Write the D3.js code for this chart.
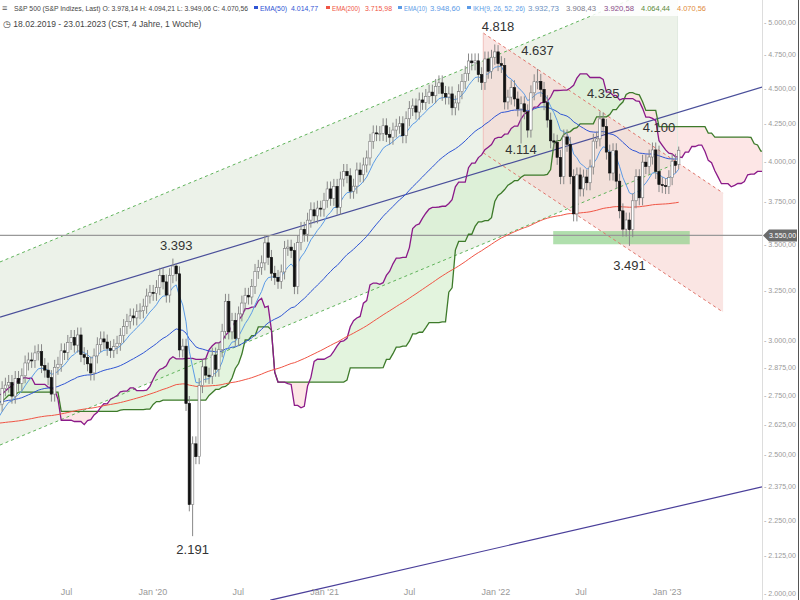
<!DOCTYPE html>
<html>
<head>
<meta charset="utf-8">
<script src="https://cdn.jsdelivr.net/npm/d3@7"></script>
<style>
  body { margin: 0; background: #fff; }
  text { font-family: "Liberation Sans", Arial, sans-serif; }
</style>
</head>
<body>
<svg id="chart" width="800" height="600"></svg>
<script>
// weekly closes, Feb 2018 .. Jan 2023 (last = week of 23.01.2023)
var closes2018 = [2747,2691,2786,2752,2588,2641,2604,2656,2670,2670,2663,2728,2713,2721,2735,2779,2780,2755,2718,2760,
  2801,2802,2819,2840,2833,2850,2875,2902,2872,2905,2930,2914,2885,2767,2768,2658,2723,2781,2736,2633,2760,2633,2600,2417,
  2486,2532,2596,2671,2665,2707,2708,2776];
var closes2019 = [2792,2804,2743,2822,2800,2834,2893,2907,2905,2940,2946,2881,2860,2826,2752,2873,2887,2950,2942,2990,
  3014,2977,3026,2932,2919,2889,2847,2926,2979,3007,2992,2962,2952,2970,2986,3023,3067,3093,3120,3110,3141,3146,3169,3221,3240];
var closes2020 = [3235,3265,3330,3295,3226,3328,3380,3338,2954,2972,2711,2305,2541,2489,2790,2875,2837,2831,2930,2864,2955,
  3044,3194,3041,3098,3009,3130,3185,3225,3216,3271,3351,3373,3397,3508,3427,3341,3319,3298,3348,3477,3484,3465,3270,3509,
  3585,3557,3638,3699,3663,3709,3703,3756];
var closes2021 = [3825,3768,3841,3714,3886,3934,3907,3811,3842,3943,3913,3975,4020,4129,4185,4180,4181,4233,4174,4156,4204,
  4230,4247,4166,4281,4352,4370,4327,4412,4395,4437,4468,4442,4509,4535,4459,4433,4455,4357,4391,4471,4545,4605,4697,4683,
  4698,4595,4538,4712,4620,4725,4766];
var closes2022 = [4677,4663,4398,4432,4500,4419,4349,4385,4329,4204,4463,4543,4546,4488,4393,4272,4132,4123,4024,3901,4158,
  4109,3901,3675,3912,3825,3899,3863,3962,4130,4145,4280,4228,4058,3924,4067,3873,3693,3586,3639,3583,3753,3901,3771,3993,
  3965,4026,4072,3934,3852,3845,3840,3895,3999,3972,4070];
var lastWeek = "2023-01-23", lastOpen = 3978;
var ema200Seed = 2560; // EMA(200) level carried in from before the loaded history
// known weekly extremes
var extremes = [
  {week: "2020-02-17", high: 3393}, {week: "2020-03-16", low: 2280}, {week: "2020-03-23", low: 2191},
  {week: "2022-01-03", high: 4818}, {week: "2022-02-21", low: 4114}, {week: "2022-03-28", high: 4637},
  {week: "2022-08-15", high: 4325}, {week: "2022-10-10", low: 3491}, {week: "2022-12-12", high: 4100},
  {week: "2023-01-23", high: 4094, low: 3949}];
var peakLabels = [
  {text: "4.818", week: "2022-01-03", v: 4818, dy: -14}, {text: "4.637", week: "2022-03-28", v: 4637, dy: -14},
  {text: "4.325", week: "2022-08-15", v: 4325, dy: -14}, {text: "4.114", week: "2022-02-21", v: 4114, dy: 10},
  {text: "4.100", week: "2022-12-12", v: 4100, dy: -14}, {text: "3.393", week: "2020-02-17", v: 3393, dy: -14},
  {text: "3.491", week: "2022-10-10", v: 3491, dy: 24}, {text: "2.191", week: "2020-03-23", v: 2191, dy: 18}];
var yTicks = [5000,4750,4500,4250,4000,3750,3500,3250,3000,2875,2750,2625,2500,2375,2250,2125,2000];
var xTicks = [["2019-07-01","Jul"],["2020-01-01","Jan '20"],["2020-07-01","Jul"],["2021-01-01","Jan '21"],
  ["2021-07-01","Jul"],["2022-01-01","Jan '22"],["2022-07-01","Jul"],["2023-01-01","Jan '23"]];
// header pieces: [x, width, text, colour, legend swatch]
var header = [
  [14, 234, "S&P 500 (S&P Indizes, Last)  O: 3.978,14  H: 4.094,21  L: 3.949,06  C: 4.070,56", "#444", 0],
  [260, 27, "EMA(50)", "#2f55d4", 1], [291, 27, "4.014,77", "#2f55d4", 0],
  [332, 28, "EMA(200)", "#f05545", 1], [365, 27, "3.715,98", "#f05545", 0],
  [404, 23, "EMA(10)", "#5b9be6", 1], [430, 30, "3.948,60", "#5b9be6", 0],
  [473, 52, "IKH(9, 26, 52, 26)", "#5b9be6", 1], [528, 31, "3.932,73", "#6a8fc0", 0],
  [566, 30, "3.908,43", "#7a7a8a", 0], [604, 30, "3.920,58", "#8b4a89", 0], [641, 29, "4.064,44", "#5a8a3a", 0],
  [677, 29, "4.070,56", "#e08a3a", 0]];
// drawn lines: [startDate, startPrice, endDate, endPrice]
var channelUpper = ["2019-02-09", 3402, "2023-01-23", 5349];
var channelLower = ["2019-02-09", 2536, "2023-01-23", 3988];
var trendBlue = ["2019-02-09", 3114, "2023-07-22", 4504];
var trendPurple = ["2020-09-07", 1977, "2023-07-22", 2371];
var redUpper = ["2021-12-05", 4912, "2023-04-30", 3800];
var redLower = ["2021-12-05", 4053, "2023-04-30", 3139];
var supportZone = ["2022-05-03", 3575, "2023-02-18", 3500];
var hLine = 3550;

var parse = d3.utcParse("%Y-%m-%d");
var W = 762, H = 600;
var svg = d3.select("#chart");
var x = d3.scaleUtc().domain([parse("2019-02-09"), parse("2023-07-22")]).range([0, W]);
var y = d3.scaleLog().domain([2000, 5000]).range([593, 22]);

// build weekly bars
var closes = closes2018.concat(closes2019, closes2020, closes2021, closes2022);
var end = parse(lastWeek), n = closes.length;
var bars = closes.map(function(c, i) {
  var d = d3.utcDay.offset(end, -7 * (n - 1 - i));
  var o = i == 0 ? c : closes[i - 1];
  if (i == n - 1) o = lastOpen;
  return {date: d, o: o, c: c, h: Math.max(o, c) * 1.012, l: Math.min(o, c) * 0.988};
});
var key = d3.utcFormat("%Y-%m-%d");
extremes.forEach(function(e) {
  var b = bars.find(function(b) { return key(b.date) == e.week; });
  if (b) { if (e.high) b.h = e.high; if (e.low) b.l = e.low; }
});

function ema(p, seed) {
  var k = 2 / (p + 1), v = seed || closes[0];
  return bars.map(function(b) { v = b.c * k + v * (1 - k); return {date: b.date, v: v}; });
}
function mid(i, p) {
  var s = bars.slice(Math.max(0, i - p + 1), i + 1);
  return (d3.max(s, function(b) { return b.h; }) + d3.min(s, function(b) { return b.l; })) / 2;
}
var cloud = bars.map(function(b, i) {
  return {date: d3.utcDay.offset(b.date, 7 * 26), a: (mid(i, 9) + mid(i, 26)) / 2, b: mid(i, 52)};
}).filter(function(d, i) { return i >= 20; });

var cx = function(d) { return x(d3.utcHour.offset(d, 60)); };
svg.append("clipPath").attr("id", "clip").append("rect").attr("width", W).attr("height", H);
var g = svg.append("g").attr("clip-path", "url(#clip)");

function pt(a, i) { return [x(parse(a[i])), y(a[i + 1])]; }

// green regression channel
var u0 = pt(channelUpper, 0), u1 = pt(channelUpper, 2), l0 = pt(channelLower, 0), l1 = pt(channelLower, 2);
g.append("path").attr("d", "M" + [u0, u1, l1, l0].join("L") + "Z").attr("fill", "#dfeadb").attr("opacity", 0.6);
// red channel
var r0 = pt(redUpper, 0), r1 = pt(redUpper, 2), q0 = pt(redLower, 0), q1 = pt(redLower, 2);
g.append("path").attr("d", "M" + [r0, r1, q1, q0].join("L") + "Z").attr("fill", "#f6d3d0").attr("opacity", 0.6);

// ichimoku cloud fill
var area = d3.area().x(function(d) { return cx(d.date); });
g.append("path").datum(cloud).attr("fill", "#d7efd0").attr("opacity", 0.7)
  .attr("d", area.y0(function(d) { return y(d.b); }).y1(function(d) { return y(Math.max(d.a, d.b)); }));
g.append("path").datum(cloud).attr("fill", "#fde0e0").attr("opacity", 0.8)
  .attr("d", area.y0(function(d) { return y(d.b); }).y1(function(d) { return y(Math.min(d.a, d.b)); }));

// support zone
var s0 = pt(supportZone, 0), s1 = pt(supportZone, 2);
g.append("rect").attr("x", s0[0]).attr("y", s0[1]).attr("width", s1[0] - s0[0]).attr("height", s1[1] - s0[1])
  .attr("fill", "#8fd18a").attr("opacity", 0.7);

function seg(a, color, dash, w) {
  var p0 = pt(a, 0), p1 = pt(a, 2);
  g.append("line").attr("x1", p0[0]).attr("y1", p0[1]).attr("x2", p1[0]).attr("y2", p1[1])
    .attr("stroke", color).attr("stroke-width", w || 1).attr("stroke-dasharray", dash);
}
seg(channelUpper, "#5fb35a", "3,3"); seg(channelLower, "#5fb35a", "3,3");
seg(redUpper, "#e0736a", "3,3"); seg(redLower, "#e0736a", "3,3");
g.append("line").attr("x1", r0[0]).attr("x2", q0[0]).attr("y1", r0[1]).attr("y2", q0[1]).attr("stroke", "#f0c0bc");
g.append("line").attr("x1", u1[0]).attr("x2", l1[0]).attr("y1", u1[1]).attr("y2", l1[1]).attr("stroke", "#e2ebe0");
seg(trendBlue, "#4a4f9a", null, 1.2); seg(trendPurple, "#4a3f9a", null, 1.2);
g.append("line").attr("x1", 0).attr("x2", W).attr("y1", y(hLine)).attr("y2", y(hLine)).attr("stroke", "#999").attr("stroke-width", 1.2);

// ichimoku lines
var vis = function(d) { return d.date >= parse("2019-01-20"); };
g.append("path").datum(cloud.filter(vis)).attr("fill", "none").attr("stroke", "#3d7a2a").attr("stroke-width", 1.3)
  .attr("d", d3.line().x(function(d) { return cx(d.date); }).y(function(d) { return y(d.b); }));
g.append("path").datum(cloud.filter(vis)).attr("fill", "none").attr("stroke", "#8b1a89").attr("stroke-width", 1.3)
  .attr("d", d3.line().x(function(d) { return cx(d.date); }).y(function(d) { return y(d.a); }));

// EMAs
var line = d3.line().x(function(d) { return cx(d.date); }).y(function(d) { return y(d.v); });
[[200, "#f05545", ema200Seed], [50, "#2f55d4"], [10, "#5b9be6"]].forEach(function(e) {
  g.append("path").datum(ema(e[0], e[2]).filter(vis)).attr("fill", "none").attr("stroke", e[1]).attr("stroke-width", 1).attr("d", line);
});

// candles
var cb = g.selectAll(".bar").data(bars.filter(vis)).enter().append("g");
cb.append("line").attr("x1", function(d) { return cx(d.date); }).attr("x2", function(d) { return cx(d.date); })
  .attr("y1", function(d) { return y(d.h); }).attr("y2", function(d) { return y(d.l); }).attr("stroke", "#888");
cb.append("rect").attr("x", function(d) { return cx(d.date) - 1.2; }).attr("width", 2.4)
  .attr("y", function(d) { return y(Math.max(d.o, d.c)); })
  .attr("height", function(d) { return Math.max(1, Math.abs(y(d.o) - y(d.c))); })
  .attr("fill", function(d) { return d.c >= d.o ? "#fff" : "#111"; })
  .attr("stroke", function(d) { return d.c >= d.o ? "#777" : "#111"; }).attr("stroke-width", 0.6);

// peak labels
g.selectAll(".pl").data(peakLabels).enter().append("text")
  .attr("x", function(d) { return cx(parse(d.week)); }).attr("y", function(d) { return y(d.v) + d.dy; })
  .attr("text-anchor", "middle").attr("font-size", 13).attr("fill", "#333").text(function(d) { return d.text; });

// axes
var fmt = function(v) { return d3.format(",.2f")(v).replace(/,/g, "#").replace(".", ",").replace(/#/g, "."); };
svg.append("line").attr("x1", W + 0.5).attr("x2", W + 0.5).attr("y1", 0).attr("y2", H).attr("stroke", "#ddd");
svg.selectAll(".yt").data(yTicks).enter().append("text").attr("x", 764).attr("y", function(d) { return y(d) + 3; })
  .attr("font-size", 8).attr("fill", "#999").attr("textLength", 32).attr("lengthAdjust", "spacingAndGlyphs")
  .text(function(d) { return "- " + fmt(d); });
var hy = y(hLine);
svg.append("path").attr("d", "M763," + hy + "L769," + (hy - 6) + "L797," + (hy - 6) + "L797," + (hy + 6) + "L769," + (hy + 6) + "Z")
  .attr("fill", "#6b6b6b");
svg.append("text").attr("x", 769).attr("y", hy + 3).attr("font-size", 8).attr("fill", "#fff")
  .attr("textLength", 27).attr("lengthAdjust", "spacingAndGlyphs").text(fmt(hLine));
svg.selectAll(".xt").data(xTicks).enter().append("text").attr("x", function(d) { return x(parse(d[0])); }).attr("y", 595)
  .attr("text-anchor", "middle").attr("font-size", 9).attr("fill", "#999").text(function(d) { return d[1]; });
svg.append("line").attr("x1", 798.5).attr("x2", 798.5).attr("y1", 0).attr("y2", H).attr("stroke", "#555");

// header
svg.append("rect").attr("width", 710).attr("height", 16).attr("fill", "#fff").attr("opacity", 0.85);
var hg = svg.append("g");
hg.append("text").attr("x", 2).attr("y", 11).attr("font-size", 9).attr("fill", "#555").text("\u2261");
header.forEach(function(h) {
  if (h[4]) hg.append("rect").attr("x", h[0] - 6).attr("y", 6).attr("width", 4).attr("height", 3).attr("fill", h[3]);
  hg.append("text").attr("x", h[0]).attr("y", 11).attr("font-size", 8).attr("fill", h[3])
    .attr("textLength", h[1]).attr("lengthAdjust", "spacingAndGlyphs").text(h[2]);
});
svg.append("text").attr("x", 3).attr("y", 27).attr("font-size", 8.5).attr("fill", "#444")
  .text("\u25F7  18.02.2019 - 23.01.2023 (CST, 4 Jahre, 1 Woche)");
</script>
</body>
</html>
